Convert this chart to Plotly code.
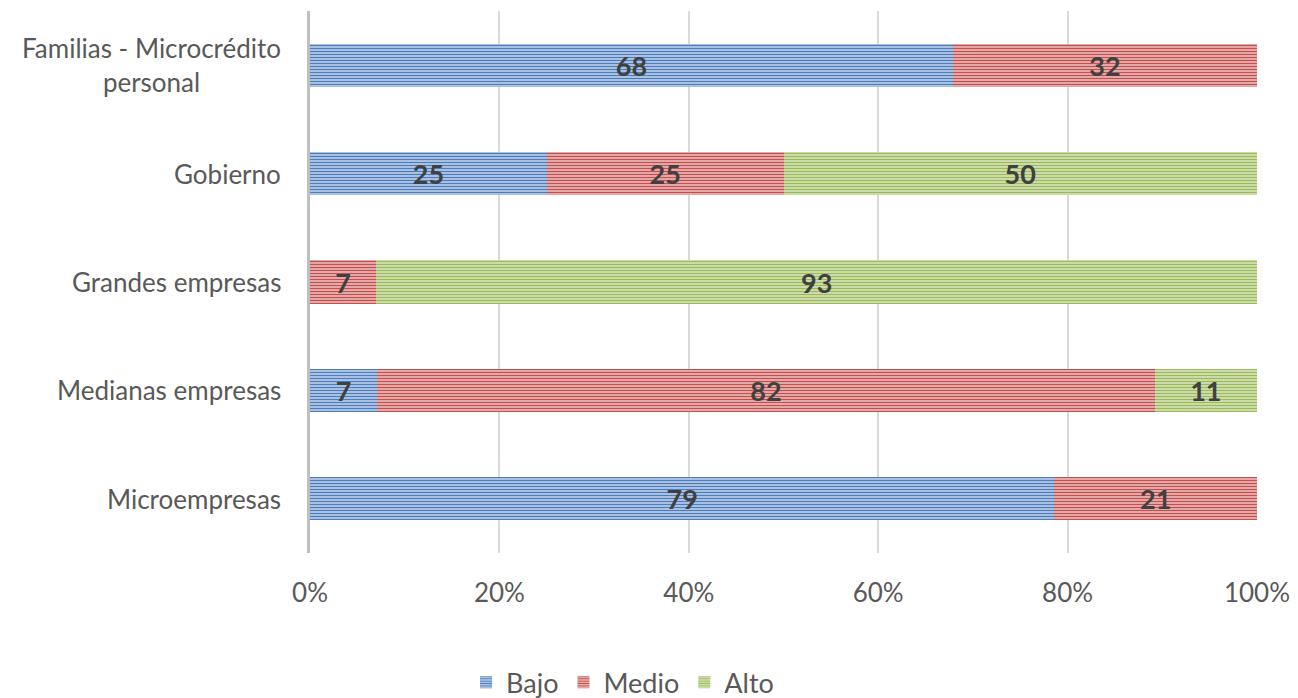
import plotly.graph_objects as go

categories = ["Microempresas", "Medianas empresas", "Grandes empresas", "Gobierno",
              "Familias - Microcrédito<br>personal"]
bajo = [78.6, 7.1, 0, 25, 67.9]
medio = [21.4, 82.1, 7, 25, 32.1]
alto = [0, 10.8, 93, 50, 0]
series_names = ["Bajo", "Medio", "Alto"]
x_ticks = [0, 20, 40, 60, 80, 100]

colors = ["#4a7ebf", "#c4504d", "#9bbb59"]
bgs = ["#c8d6ec", "#ecc4c3", "#dbe7c5"]

FONT = "Lato"
fig = go.Figure()
for name, vals, c, bg in zip(series_names, [bajo, medio, alto], colors, bgs):
    fig.add_trace(go.Bar(
        y=categories, x=vals, name=name, orientation="h",
        marker=dict(color=c, line=dict(width=0),
                    pattern=dict(shape="-", size=3, solidity=0.5, bgcolor=bg, fgcolor=c, fillmode="replace")),
        text=[f"{v:.0f}" if v > 0 else "" for v in vals],
        textposition="inside", insidetextanchor="middle",
        textfont=dict(family=FONT, size=27, color="#404040", weight="bold"),
        width=0.4,
    ))

for cat in categories:
    fig.add_annotation(text=cat, xref="paper", x=0, yref="y", y=cat,
                       xanchor="right", yanchor="middle", xshift=-27, align="center",
                       showarrow=False, font=dict(family=FONT, size=26, color="#595959"))

fig.update_layout(
    barmode="stack",
    width=1290, height=690,
    margin=dict(l=302, r=41, t=3, b=145, autoexpand=False),
    paper_bgcolor="white", plot_bgcolor="white",
    font=dict(family=FONT, size=26, color="#595959"),
    showlegend=True,
    legend=dict(orientation="h", traceorder="normal", x=0.33, xanchor="center",
                yref="container", y=0.022, yanchor="middle",
                font=dict(size=27, color="#595959")),
)
fig.update_xaxes(range=[0, 100], tickvals=x_ticks, ticktext=[f"{t}%" for t in x_ticks],
                 showgrid=True, gridcolor="#d9d9d9", gridwidth=2, zeroline=False,
                 showline=False, ticks="", ticklabelstandoff=22,
                 tickfont=dict(size=26, color="#595959"))
fig.update_yaxes(showgrid=False, zeroline=False, showline=True, linecolor="#bfbfbf",
                 linewidth=3, ticks="", showticklabels=False, range=[-0.5, 4.5])

fig.write_html("out.html")
